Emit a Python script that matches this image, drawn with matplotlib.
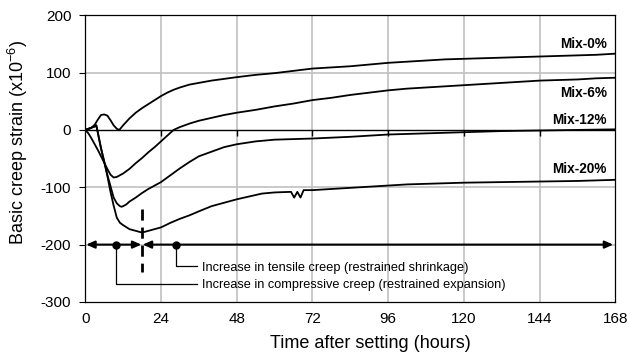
import matplotlib
matplotlib.use("Agg")
import matplotlib.pyplot as plt

plt.rcParams['font.family'] = ['Liberation Sans', 'DejaVu Sans']
plt.rcParams['axes.unicode_minus'] = False
plt.rcParams['mathtext.fontset'] = 'custom'
plt.rcParams['mathtext.rm'] = 'Liberation Sans'
plt.rcParams['mathtext.it'] = 'Liberation Sans:italic'

# basic creep strain (x10^-6) against time after setting (h)
t_mix0 = [0, 1, 2, 3, 4, 5, 6, 7, 8, 9, 10, 10.8, 12, 14, 16, 18, 20, 22, 24, 26, 28, 30,
          33, 36, 40, 44, 48, 54, 60, 66, 72, 78, 84, 90, 96, 102, 108, 114, 120, 126,
          132, 138, 144, 150, 156, 162, 168]
s_mix0 = [0, 1, 4, 9, 18, 26, 27, 25, 17, 8, 2, 0, 8, 20, 30, 38, 45, 52, 59, 65, 70, 74,
          79, 82, 86, 89, 92, 96, 99, 103, 107, 109, 111, 114, 117, 119, 121, 123, 124, 125,
          126, 127, 128, 129, 130, 131, 133]

t_mix6 = [0, 1, 2, 3, 4, 5, 6, 7, 8, 9, 10, 11, 12, 14, 16, 18, 20, 22, 24, 26, 28, 30,
          33, 36, 40, 44, 48, 54, 60, 66, 72, 78, 84, 90, 96, 102, 108, 114, 120, 126,
          132, 138, 144, 150, 156, 162, 168]
s_mix6 = [0, -6, -15, -25, -35, -46, -57, -68, -78, -83, -82, -79, -76, -68, -58, -49, -39,
          -30, -20, -10, 0, 5, 11, 16, 21, 26, 30, 35, 41, 46, 52, 56, 61, 65, 69, 72, 74,
          76, 78, 80, 82, 84, 86, 87, 88, 90, 91]

t_mix12 = [0, 1, 2, 3, 3.5, 4, 5, 6, 7, 8, 9, 10, 11, 11.5, 12, 13, 14, 16, 18, 20, 22,
           24, 27, 30, 33, 36, 40, 44, 48, 54, 60, 66, 72, 84, 96, 108, 120, 132, 144,
           156, 168]
s_mix12 = [0, 2, 4, 6, 8, -5, -32, -55, -78, -98, -118, -128, -133, -134, -133, -130, -125,
           -118, -110, -103, -97, -91, -79, -67, -56, -46, -38, -30, -25, -20, -17, -16,
           -15, -12, -8, -6, -4, -2, -1, 0, 1]

t_mix20 = [0, 1, 2, 3, 3.5, 4, 5, 6, 7, 8, 9, 10, 11, 12, 14, 16, 18, 20, 22, 24, 27, 30,
           33, 36, 40, 44, 48, 52, 56, 60, 65.2, 66.2, 67.2, 68.2, 69.2, 72, 78, 84, 90,
           96, 102, 108, 114, 120, 132, 144, 156, 168]
s_mix20 = [0, 2, 4, 6, 8, -5, -32, -55, -80, -108, -132, -153, -162, -166, -173, -176,
           -179, -176, -173, -170, -162, -155, -149, -142, -133, -127, -121, -116, -111,
           -109, -108, -118, -108, -118, -105, -105, -103, -101, -99, -97, -95, -94, -93,
           -92, -91, -90, -89, -87]

labels = ['Mix-0%', 'Mix-6%', 'Mix-12%', 'Mix-20%']
label_y = [150, 65, 18, -69]

x_ticks = [0, 24, 48, 72, 96, 120, 144, 168]
y_ticks = [-300, -200, -100, 0, 100, 200]

# stage boundary and marker points on the annotation arrow
t_split = 18
t_comp = 9.6
t_tens = 28.8

fig = plt.figure(figsize=(6.29, 3.54), dpi=100)
ax = fig.add_axes([0.1355, 0.147, 0.843, 0.81])

for x in x_ticks[1:-1]:
    ax.axvline(x, color='#c0c0c0', lw=1.2, zorder=0)
for y in [100, -100, -200]:
    ax.axhline(y, color='#c0c0c0', lw=1.2, zorder=0)
ax.axhline(0, color='black', lw=1.0, zorder=1)
ax.plot(x_ticks[1:-1], [0] * 6, ls='none', marker=3, ms=4, color='black', mew=1)

for t, s in [(t_mix0, s_mix0), (t_mix6, s_mix6), (t_mix12, s_mix12), (t_mix20, s_mix20)]:
    ax.plot(t, s, color='black', lw=1.3, zorder=3)

for lab, y in zip(labels, label_y):
    ax.text(165.3, y, lab, ha='right', va='center', fontsize=9.8, fontweight='bold')

# compressive / tensile creep arrows
arr = dict(arrowstyle='<|-|>,head_length=0.5,head_width=0.22', color='black', lw=1.5,
           shrinkA=0, shrinkB=0)
ax.annotate('', xy=(0.3, -200), xytext=(t_split - 0.2, -200), arrowprops=arr, zorder=4)
ax.annotate('', xy=(t_split + 0.2, -200), xytext=(167.3, -200), arrowprops=arr, zorder=4)
ax.plot([t_split, t_split], [-138, -248], color='black', lw=2, dashes=(4, 2.5), zorder=4)
ax.plot([t_comp, t_tens], [-200, -200], 'o', color='black', ms=5, zorder=5)
ax.plot([t_tens, t_tens, 35.5], [-200, -238, -238], color='black', lw=0.9)
ax.plot([t_comp, t_comp, 35.5], [-200, -269, -269], color='black', lw=0.9)
ax.text(37, -240, 'Increase in tensile creep (restrained shrinkage)', fontsize=9.2,
        va='center', ha='left')
ax.text(37, -271, 'Increase in compressive creep (restrained expansion)', fontsize=9.2,
        va='center', ha='left')

ax.set_xlim(0, 168)
ax.set_ylim(-300, 200)
ax.set_xticks(x_ticks)
ax.set_yticks(y_ticks)
ax.tick_params(axis='x', length=0, pad=7, labelsize=11)
ax.tick_params(axis='y', length=4, direction='out', pad=6, labelsize=11)
for sp in ax.spines.values():
    sp.set_linewidth(0.9)

ax.set_xlabel('Time after setting (hours)', fontsize=13)
ax.xaxis.set_label_coords(0.538, -0.115)
ax.set_ylabel('Basic creep strain (x10$^{-6}$)', fontsize=13)
ax.yaxis.set_label_coords(-0.105, 0.555)

fig.savefig('out.png', dpi=100)
